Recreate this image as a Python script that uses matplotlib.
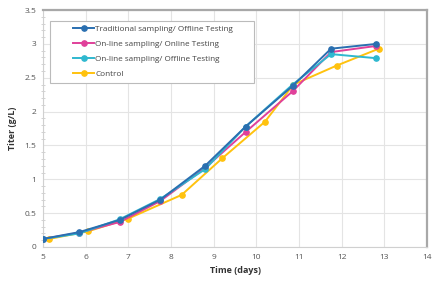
import numpy as np
import matplotlib
matplotlib.use('Agg')
from matplotlib import pyplot as plt
from matplotlib.ticker import MultipleLocator
from matplotlib.patches import Rectangle

plt.rcParams['font.family'] = ['Open Sans', 'DejaVu Sans']

days = [5.0, 5.85, 6.8, 7.75, 8.8, 9.75, 10.85, 11.75, 12.8]
traditional = [0.12, 0.22, 0.40, 0.70, 1.20, 1.78, 2.38, 2.93, 3.00]
online_online = [0.12, 0.21, 0.37, 0.68, 1.17, 1.70, 2.30, 2.88, 2.97]
online_offline = [0.12, 0.20, 0.41, 0.71, 1.15, 1.78, 2.40, 2.85, 2.79]

control_days = [5.15, 6.05, 7.0, 8.25, 9.2, 10.2, 10.87, 11.88, 12.87]
control = [0.12, 0.23, 0.42, 0.77, 1.31, 1.85, 2.40, 2.68, 2.93]

labels = ['Traditional sampling/ Offline Testing',
          'On-line sampling/ Online Testing',
          'On-line sampling/ Offline Testing',
          'Control']

fig = plt.figure(figsize=(4.32, 2.81), dpi=100)
ax = fig.add_axes([0.0995, 0.121, 0.889, 0.843])

ax.plot(days, traditional, '-o', color='#2a6fb0', lw=1.4, ms=3.8, label=labels[0], zorder=4)
ax.plot(days, online_online, '-o', color='#e0409a', lw=1.4, ms=3.8, label=labels[1], zorder=3)
ax.plot(days, online_offline, '-o', color='#2fb8cf', lw=1.4, ms=3.8, label=labels[2], zorder=3)
ax.plot(control_days, control, '-o', color='#ffc20e', lw=1.4, ms=3.8, label=labels[3], zorder=2)

ax.set_xlim(5, 14)
ax.set_ylim(0, 3.5)
ax.xaxis.set_major_locator(MultipleLocator(1))
ax.yaxis.set_minor_locator(MultipleLocator(0.1))
ax.grid(True, which='major', color='#e4e4e4', lw=0.8)
ax.tick_params(axis='both', which='major', labelsize=6, colors='#555555', length=0, pad=5)
ax.tick_params(axis='y', which='minor', length=2.5, color='#cccccc', direction='inout')
ax.set_yticks([0, 0.5, 1, 1.5, 2, 2.5, 3, 3.5])
ax.set_yticklabels(['0', '0.5', '1', '1.5', '2', '2.5', '3', '3.5'])

for side in ['left', 'bottom']:
    ax.spines[side].set_color('#d0d0d0')
    ax.spines[side].set_linewidth(0.8)
for side in ['top', 'right']:
    ax.spines[side].set_color('#a8a8a8')
    ax.spines[side].set_linewidth(1.6)

ax.set_xlabel('Time (days)', fontsize=6.5, fontweight='bold', color='#333333', labelpad=4)
ax.set_ylabel('Titer (g/L)', fontsize=6.5, fontweight='bold', color='#333333', labelpad=5)

# legend box drawn separately so the inner padding matches
ax.add_patch(Rectangle((0.018, 0.692), 0.531, 0.262, transform=ax.transAxes,
                       facecolor='white', edgecolor='#bbbbbb', lw=0.8, zorder=5))
leg = ax.legend(loc='upper left', bbox_to_anchor=(0.078, 0.936), fontsize=5.9,
                frameon=False, borderpad=0, borderaxespad=0,
                handlelength=2.6, labelspacing=0.9, handletextpad=0.15)
leg.set_zorder(6)
for t in leg.get_texts():
    t.set_color('#444444')

fig.savefig('out.png', dpi=100)
